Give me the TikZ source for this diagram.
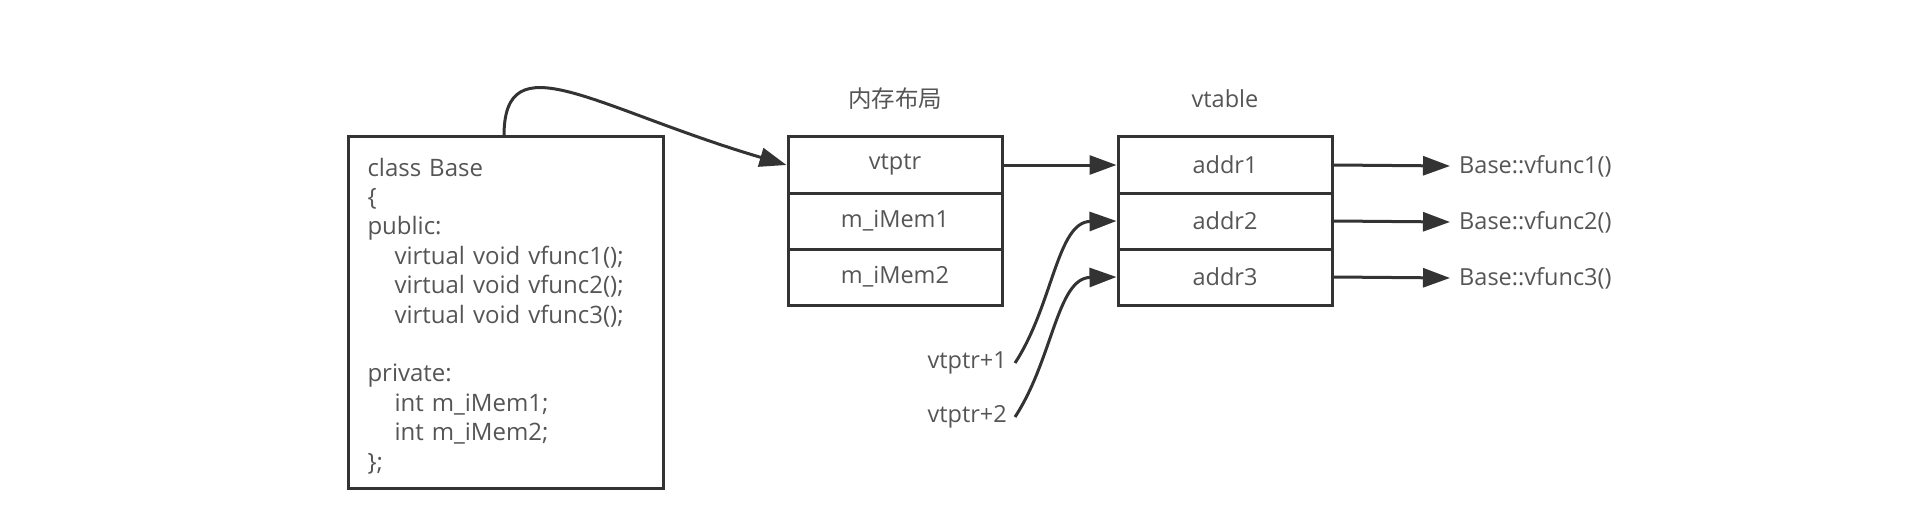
\documentclass[tikz,border=0pt]{standalone}
\usepackage{fontspec}
\setmainfont{Open Sans}
\newfontfamily\cjk{Noto Sans CJK SC}
\usetikzlibrary{arrows.meta}
\definecolor{linec}{HTML}{333333}
\definecolor{textc}{HTML}{555555}
\tikzset{
  cell/.style={draw=linec, line width=3pt, minimum width=214pt, minimum height=56pt, inner sep=0pt, text=textc, font=\fontsize{23.5}{28}\selectfont},
  lbl/.style={text=textc, font=\fontsize{23.5}{28}\selectfont, inner sep=0pt},
  conn/.style={draw=linec, line width=3pt, -{Triangle[length=27pt,width=19pt]}},
}
\begin{document}
\begin{tikzpicture}[x=1pt,y=-1pt]
\useasboundingbox (0,0) rectangle (1922,508);
% class box
\node[draw=linec, line width=3pt, anchor=north west, minimum width=315pt, minimum height=352pt,
      text width=277pt, inner xsep=18pt, inner ysep=0pt, align=left, text=textc,
      font=\fontsize{24}{29.4}\selectfont] (cls) at (347,135) {\rule{0pt}{25pt}class Base\\
\{\\
public:\\
\hspace*{27pt}virtual void vfunc1();\\
\hspace*{27pt}virtual void vfunc2();\\
\hspace*{27pt}virtual void vfunc3();\\[29.4pt]
private:\\
\hspace*{27pt}int m\_iMem1;\\
\hspace*{27pt}int m\_iMem2;\\
\};};
\coordinate (clstop) at (504,136);
% memory layout
\node[lbl, font=\cjk\fontsize{23.5}{28}\selectfont] (memt) at (895,99) {内存布局};
\node[cell] (vtptr) at (895,165) {vtptr};
\node[cell] (mem1) at (895,221) {m\_iMem1};
\node[cell] (mem2) at (895,277) {m\_iMem2};
% vtable
\node[lbl] (vtt) at (1225,99) {vtable};
\node[cell] (addr1) at (1225,165) {addr1};
\node[cell] (addr2) at (1225,221) {addr2};
\node[cell] (addr3) at (1225,277) {addr3};
% functions
\node[lbl, anchor=west, inner xsep=9pt] (f1) at (1450,166) {Base::vfunc1()};
\node[lbl, anchor=west, inner xsep=9pt] (f2) at (1450,222) {Base::vfunc2()};
\node[lbl, anchor=west, inner xsep=9pt] (f3) at (1450,278) {Base::vfunc3()};
% vtptr+n
\node[lbl, anchor=east, inner xsep=8pt] (p1) at (1015,363) {vtptr+1};
\node[lbl, anchor=east, inner xsep=8pt] (p2) at (1015,417) {vtptr+2};
% connectors
\draw[conn] (clstop) .. controls (504,40) and (594,108) .. (vtptr.west);
\draw[conn] (vtptr.east) -- (addr1.west);
\draw[conn] (addr1.east) -- (f1.west);
\draw[conn] (addr2.east) -- (f2.west);
\draw[conn] (addr3.east) -- (f3.west);
\draw[conn] (p1.east) .. controls (1053,305) and (1057,222) .. (addr2.west);
\draw[conn] (p2.east) .. controls (1053,359) and (1057,278) .. (addr3.west);
\end{tikzpicture}
\end{document}
